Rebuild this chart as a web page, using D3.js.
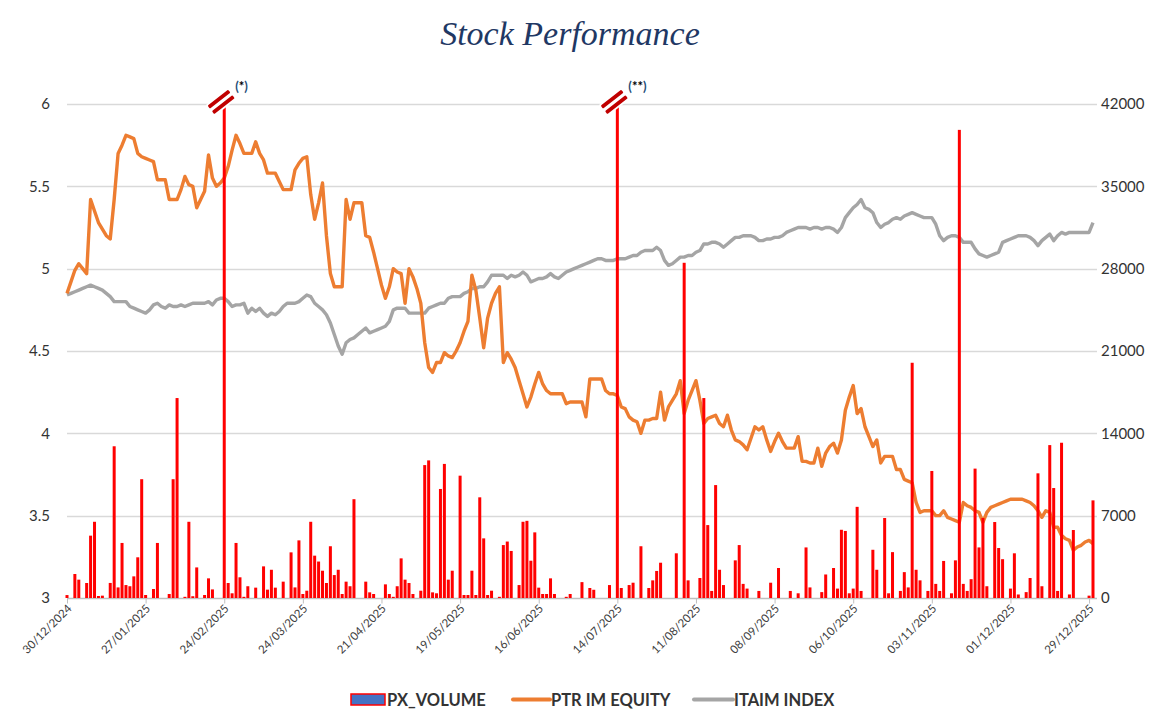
<!DOCTYPE html>
<html>
<head>
<meta charset="utf-8">
<script src="https://cdn.jsdelivr.net/npm/d3@7"></script>
<style>
  body { margin: 0; background: #fff; }
  text { font-family: Lato, "Liberation Sans", sans-serif; }
</style>
</head>
<body>
<svg id="chart"></svg>
<script>
// svg width height
const width = 1163;
const height = 709;

// x tick labels (one every 20 trading days)
const tickLabels = ["30/12/2024", "27/01/2025", "24/02/2025", "24/03/2025", "21/04/2025",
    "19/05/2025", "16/06/2025", "14/07/2025", "11/08/2025", "08/09/2025",
    "06/10/2025", "03/11/2025", "01/12/2025", "29/12/2025"];

// PTR IM EQUITY, left axis
const ptrPrice = [
    4.85,4.92,4.99,5.03,5.00,4.97,5.42,5.35,5.28,5.24,
    5.20,5.18,5.42,5.70,5.75,5.81,5.80,5.79,5.70,5.68,
    5.67,5.66,5.65,5.54,5.54,5.54,5.42,5.42,5.42,5.48,
    5.56,5.51,5.50,5.37,5.42,5.47,5.69,5.55,5.50,5.52,
    5.55,5.62,5.72,5.81,5.76,5.70,5.70,5.70,5.77,5.70,
    5.66,5.58,5.58,5.58,5.53,5.48,5.48,5.48,5.60,5.64,
    5.67,5.68,5.45,5.30,5.40,5.52,5.20,4.97,4.89,4.89,
    4.89,5.42,5.30,5.40,5.40,5.40,5.20,5.19,5.10,5.00,
    4.90,4.82,4.89,5.00,4.98,4.97,4.79,5.00,4.95,4.88,
    4.79,4.55,4.40,4.37,4.43,4.43,4.49,4.47,4.46,4.50,
    4.55,4.62,4.68,4.96,4.87,4.70,4.52,4.70,4.79,4.85,
    4.89,4.43,4.49,4.45,4.40,4.32,4.24,4.16,4.22,4.30,
    4.37,4.30,4.26,4.24,4.24,4.24,4.24,4.18,4.19,4.19,
    4.19,4.19,4.10,4.33,4.33,4.33,4.33,4.26,4.24,4.24,
    4.23,4.16,4.15,4.10,4.08,4.07,4.00,4.08,4.08,4.09,
    4.09,4.25,4.08,4.16,4.20,4.24,4.32,4.12,4.20,4.26,
    4.32,4.20,4.06,4.09,4.10,4.11,4.06,4.04,4.11,4.02,
    3.96,3.95,3.93,3.90,3.97,4.04,4.02,4.04,3.96,3.89,
    3.95,4.00,3.95,3.91,3.91,3.91,3.98,3.83,3.83,3.82,
    3.82,3.91,3.80,3.88,3.92,3.94,3.88,3.96,4.14,4.22,
    4.29,4.12,4.15,4.04,3.98,3.92,3.96,3.82,3.86,3.86,
    3.86,3.78,3.78,3.72,3.71,3.70,3.58,3.52,3.53,3.53,
    3.53,3.50,3.50,3.53,3.49,3.48,3.47,3.46,3.58,3.56,
    3.55,3.53,3.52,3.46,3.52,3.55,3.56,3.57,3.58,3.59,
    3.60,3.60,3.60,3.60,3.59,3.58,3.56,3.53,3.49,3.53,
    3.52,3.43,3.43,3.38,3.36,3.35,3.29,3.31,3.32,3.34,
    3.35,3.33
];

// ITAIM INDEX rebased on the stock price, left axis
const itaimIndex = [
    4.84,4.85,4.86,4.87,4.88,4.89,4.90,4.89,4.88,4.87,
    4.85,4.83,4.80,4.80,4.80,4.80,4.77,4.76,4.75,4.74,
    4.73,4.75,4.78,4.79,4.77,4.76,4.78,4.77,4.77,4.78,
    4.77,4.78,4.79,4.79,4.79,4.79,4.80,4.78,4.81,4.82,
    4.82,4.80,4.77,4.78,4.78,4.79,4.73,4.76,4.74,4.76,
    4.73,4.71,4.73,4.72,4.74,4.77,4.79,4.79,4.79,4.80,
    4.82,4.84,4.83,4.79,4.77,4.75,4.72,4.67,4.60,4.53,
    4.48,4.55,4.57,4.58,4.60,4.62,4.64,4.61,4.62,4.63,
    4.64,4.65,4.68,4.75,4.76,4.76,4.76,4.73,4.73,4.73,
    4.73,4.73,4.76,4.77,4.78,4.79,4.79,4.82,4.83,4.83,
    4.83,4.85,4.86,4.88,4.88,4.89,4.89,4.92,4.96,4.96,
    4.96,4.96,4.94,4.96,4.95,4.96,4.98,4.96,4.92,4.93,
    4.94,4.94,4.95,4.97,4.95,4.94,4.96,4.98,4.99,5.00,
    5.01,5.02,5.03,5.04,5.05,5.06,5.06,5.05,5.05,5.05,
    5.06,5.06,5.06,5.07,5.08,5.08,5.10,5.11,5.11,5.11,
    5.13,5.11,5.05,5.02,5.03,5.05,5.07,5.07,5.08,5.08,
    5.10,5.11,5.15,5.15,5.16,5.16,5.15,5.13,5.15,5.17,
    5.19,5.19,5.20,5.20,5.20,5.19,5.17,5.17,5.18,5.18,
    5.19,5.19,5.20,5.22,5.23,5.24,5.25,5.25,5.25,5.24,
    5.25,5.25,5.24,5.25,5.25,5.24,5.22,5.25,5.31,5.34,
    5.37,5.39,5.42,5.37,5.36,5.34,5.28,5.25,5.27,5.28,
    5.30,5.31,5.30,5.32,5.33,5.34,5.33,5.32,5.31,5.31,
    5.31,5.27,5.20,5.17,5.19,5.20,5.20,5.19,5.16,5.16,
    5.16,5.12,5.09,5.08,5.07,5.08,5.09,5.10,5.16,5.17,
    5.18,5.19,5.20,5.20,5.20,5.19,5.17,5.14,5.17,5.19,
    5.21,5.17,5.20,5.22,5.21,5.22,5.22,5.22,5.22,5.22,
    5.22,5.28
];

// PX_VOLUME, right axis (the two 60000 bars are cut at the top)
const pxVolume = [
    250,0,2040,1560,0,1275,5300,6480,170,200,
    0,1280,12900,900,4680,1100,1000,1840,3460,10100,
    255,0,765,4680,0,0,340,10100,17000,0,
    100,6480,150,2600,0,255,1670,730,0,0,
    60000,1275,400,4680,1760,100,1000,0,880,0,
    2690,710,2400,880,0,1390,0,3880,900,4900,
    340,620,6480,3600,3100,2320,1275,4400,1950,2400,
    340,1390,1000,8400,0,0,1390,480,340,0,
    0,1160,340,100,1000,3370,1560,1275,340,0,
    620,11300,11700,480,400,9270,11400,1560,2320,0,
    10400,255,255,2320,255,8560,5070,255,620,0,
    100,4500,4800,4000,0,1100,6480,6560,3170,5580,
    880,340,340,1670,340,0,0,100,340,0,
    0,1350,0,850,700,0,0,0,1100,0,
    60000,850,0,1100,1300,0,4400,0,850,1500,
    2300,3000,0,0,0,3800,0,28500,1500,0,
    0,1700,17000,6200,600,9600,2400,1100,0,0,
    3200,4500,1200,800,0,0,600,0,0,1300,
    0,2550,0,0,600,0,400,0,4300,900,
    0,0,500,2000,0,2550,800,5800,5700,400,
    800,7750,600,0,0,4100,2400,0,6800,400,
    3900,0,600,2200,900,20000,2400,1500,0,600,
    10800,1200,600,3150,0,400,3200,39800,1200,600,
    1600,11000,4300,6800,1000,0,6460,4250,3300,0,
    800,3800,300,0,500,1700,0,10600,1000,0,
    13000,9350,600,13200,0,300,5780,0,0,0,
    200,8300
];

// notes on the cut bars
const breakNotes = [
    { day: "24/02/2025", label: "*" },
    { day: "14/07/2025", label: "**" }
];

const leftTicks = [3, 3.5, 4, 4.5, 5, 5.5, 6];
const rightTicks = [0, 7000, 14000, 21000, 28000, 35000, 42000];

// trading days (weekdays) from 30/12/2024
const fmt = d3.timeFormat("%d/%m/%Y");
const days = [];
for (let d = new Date(2024, 11, 30); days.length < ptrPrice.length; d.setDate(d.getDate() + 1)) {
    if (d.getDay() !== 0 && d.getDay() !== 6) days.push(fmt(d));
}

const svg = d3.select("#chart")
    .attr("width", width)
    .attr("height", height);

// plot area
const plotLeft = 67, plotRight = 1093, plotTop = 104, plotBottom = 598;

const x = d3.scalePoint().domain(days).range([plotLeft, plotRight]);
const yL = d3.scaleLinear().domain([3, 6]).range([plotBottom, plotTop]);
const yR = d3.scaleLinear().domain([0, 42000]).range([plotBottom, plotTop]).clamp(true);

// title
svg.append("text")
    .attr("x", 570)
    .attr("y", 45)
    .attr("text-anchor", "middle")
    .style("font-family", "'Liberation Serif', serif")
    .style("font-style", "italic")
    .style("font-size", "34px")
    .attr("fill", "#1F3864")
    .text("Stock Performance");

// gridlines
svg.append("g")
    .selectAll("line")
    .data(leftTicks.slice(1))
    .enter()
    .append("line")
    .attr("x1", plotLeft)
    .attr("x2", plotRight + 4)
    .attr("y1", d => Math.round(yL(d)) + 0.5)
    .attr("y2", d => Math.round(yL(d)) + 0.5)
    .attr("stroke", "#D9D9D9")
    .attr("stroke-width", 1.3);

// left axis
const gL = svg.append("g")
    .attr("transform", `translate(${plotLeft - 10},0)`)
    .call(d3.axisLeft(yL).tickValues(leftTicks).tickFormat(d => d).tickSize(0).tickPadding(7));
gL.select(".domain").remove();
gL.selectAll("text")
    .style("font-size", "15px")
    .attr("fill", "#333");

// right axis
const gR = svg.append("g")
    .attr("transform", `translate(${plotRight + 4},0)`)
    .call(d3.axisRight(yR).tickValues(rightTicks).tickFormat(d => d).tickSize(0).tickPadding(4));
gR.select(".domain").remove();
gR.selectAll("text")
    .style("font-size", "15px")
    .attr("fill", "#333");

// bottom axis
const gX = svg.append("g")
    .attr("transform", `translate(0,${plotBottom + 0.5})`)
    .call(d3.axisBottom(x).tickValues(tickLabels).tickSize(5).tickSizeOuter(0));
gX.select(".domain")
    .attr("d", `M${plotLeft},0H${plotRight + 4}`)
    .attr("stroke", "#BFBFBF")
    .attr("stroke-width", 1.3);
gX.selectAll(".tick line").attr("stroke", "#BFBFBF");
gX.selectAll("text")
    .style("font-size", "11.5px")
    .attr("fill", "#404040")
    .attr("text-anchor", "end")
    .attr("x", 0)
    .attr("y", 0)
    .attr("dx", 0)
    .attr("dy", "0.35em")
    .attr("transform", "translate(2,8) rotate(-45)");

// lines
const line = d3.line()
    .x((d, i) => x(days[i]))
    .y(d => yL(d));

svg.append("path")
    .datum(itaimIndex)
    .attr("d", line)
    .attr("fill", "none")
    .attr("stroke", "#A5A5A5")
    .attr("stroke-width", 3.4)
    .attr("stroke-linejoin", "round");

svg.append("path")
    .datum(ptrPrice)
    .attr("d", line)
    .attr("fill", "none")
    .attr("stroke", "#ED7D31")
    .attr("stroke-width", 3.4)
    .attr("stroke-linejoin", "round");

// volume bars
const barW = 3;
svg.append("g")
    .selectAll("rect")
    .data(pxVolume.map((v, i) => ({ day: days[i], v })).filter(d => d.v > 0))
    .enter()
    .append("rect")
    .attr("x", d => x(d.day) - barW / 2)
    .attr("y", d => yR(d.v))
    .attr("width", barW)
    .attr("height", d => plotBottom - yR(d.v))
    .attr("fill", "#FF0000");

// break markers on the cut bars
const marks = svg.append("g")
    .selectAll("g")
    .data(breakNotes)
    .enter()
    .append("g")
    .attr("transform", d => `translate(${x(d.day) - 3},${plotTop - 2}) rotate(-38)`);
marks.append("rect")
    .attr("x", -14).attr("y", -7).attr("width", 28).attr("height", 14)
    .attr("fill", "#fff");
marks.append("rect")
    .attr("x", -13).attr("y", -5.5).attr("width", 26).attr("height", 3.8)
    .attr("rx", 1).attr("fill", "#C00000");
marks.append("rect")
    .attr("x", -13).attr("y", 1.5).attr("width", 26).attr("height", 3.8)
    .attr("rx", 1).attr("fill", "#C00000");

const notes = svg.append("g")
    .selectAll("text")
    .data(breakNotes)
    .enter()
    .append("text")
    .attr("x", d => x(d.day) + 11)
    .attr("y", 91)
    .style("font-size", "13px")
    .style("font-weight", "bold")
    .attr("fill", "#1F4E79");
notes.append("tspan").text("(");
notes.append("tspan").attr("fill", "#000").text(d => d.label);
notes.append("tspan").text(")");

// legend
const legend = svg.append("g").attr("transform", "translate(0,700)");
legend.append("rect")
    .attr("x", 351).attr("y", -6).attr("width", 34).attr("height", 11)
    .attr("fill", "#4472C4").attr("stroke", "#FF0000").attr("stroke-width", 1.5);
legend.append("line")
    .attr("x1", 513).attr("x2", 550).attr("y1", -0.5).attr("y2", -0.5)
    .attr("stroke", "#ED7D31").attr("stroke-width", 4).attr("stroke-linecap", "round");
legend.append("line")
    .attr("x1", 694).attr("x2", 733).attr("y1", -0.5).attr("y2", -0.5)
    .attr("stroke", "#A5A5A5").attr("stroke-width", 4).attr("stroke-linecap", "round");
legend.selectAll("text")
    .data([{ x: 387, t: "PX_VOLUME" }, { x: 551, t: "PTR IM EQUITY" }, { x: 734, t: "ITAIM INDEX" }])
    .enter()
    .append("text")
    .attr("x", d => d.x)
    .attr("y", 6)
    .style("font-size", "16.5px")
    .style("font-weight", "bold")
    .attr("fill", "#333")
    .text(d => d.t);
</script>
</body>
</html>
